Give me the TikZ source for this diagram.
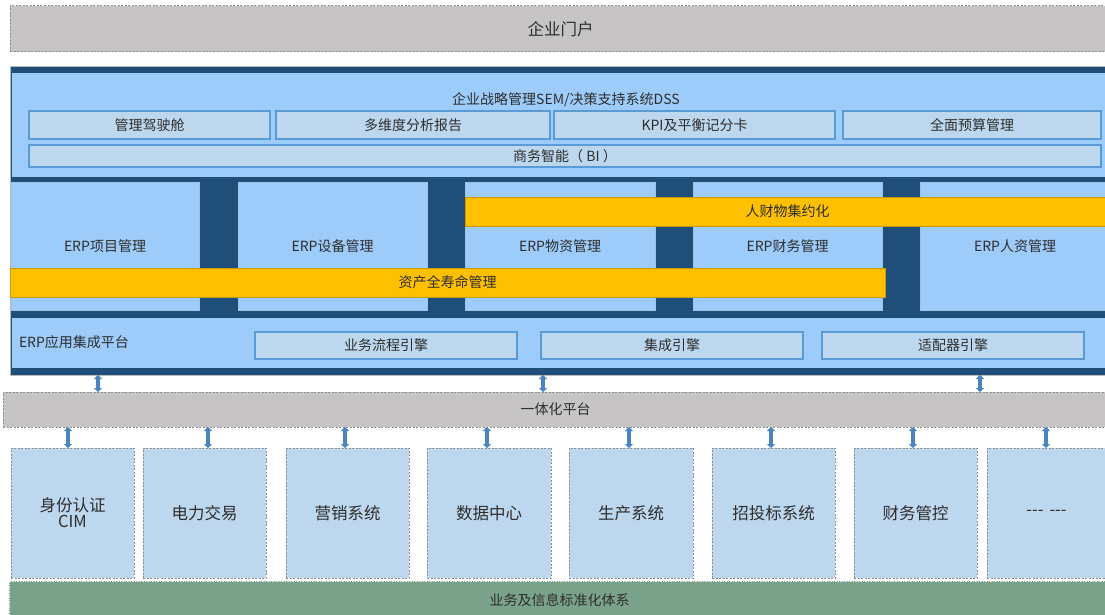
\documentclass[tikz,border=0pt]{standalone}
\usepackage{fontspec}
\setmainfont{Noto Sans CJK SC}
\usetikzlibrary{arrows.meta}
\definecolor{navy}{HTML}{1F4E79}
\definecolor{lblue}{HTML}{9DCCFA}
\definecolor{pblue}{HTML}{BDD7EE}
\definecolor{bblue}{HTML}{5B9BD5}
\definecolor{gbox}{HTML}{C6C4C5}
\definecolor{gedge}{HTML}{8E8E8E}
\definecolor{ylw}{HTML}{FFC000}
\definecolor{grn}{HTML}{7AA28B}
\definecolor{arrc}{HTML}{4A84C0}
\definecolor{txt}{HTML}{2E2E2E}
\tikzset{
  box/.style={rectangle, inner sep=0pt, outer sep=0pt, text=txt, font=\fontsize{14}{16}\selectfont},
  graybox/.style={box, fill=gbox, draw=gedge, line width=1pt, dash pattern=on 2pt off 1.5pt},
  navyblock/.style={box, fill=navy, draw=gedge!60, line width=0.6pt},
  lregion/.style={box, fill=lblue},
  semcell/.style={box, fill=pblue, draw=bblue, line width=1.2pt},
  module/.style={box, fill=lblue, draw=bblue!60, line width=0.6pt},
  ybar/.style={box, fill=ylw, draw=ylw!80!black, line width=0.5pt},
  sysbox/.style={box, fill=pblue, draw=gedge, line width=1pt, dash pattern=on 2pt off 1.5pt, font=\fontsize{16.5}{19}\selectfont, align=center},
  greenbar/.style={box, fill=grn, draw=white!85!gray, line width=1pt, dash pattern=on 1.5pt off 1pt},
  arr/.style={draw=arrc, line width=3.4pt, {Triangle[width=8pt,length=4pt]}-{Triangle[width=8pt,length=4pt]}}
}
\begin{document}
\begin{tikzpicture}[x=1pt,y=-1pt]
\useasboundingbox (0,0) rectangle (1105,615);
% portal
\node[graybox, minimum width=1101pt, minimum height=46pt, font=\fontsize{16.5}{19}\selectfont] (portal) at (560.5,29) {企业门户};
% ERP block
\node[navyblock, minimum width=1100pt, minimum height=309pt] (erp) at (560,220.5) {};
\node[lregion, minimum width=1096pt, minimum height=104pt] (sem) at (560,125) {};
\node[box] (semtitle) at (566,100) {企业战略管理SEM/决策支持系统DSS};
\node[semcell, minimum width=241pt, minimum height=28pt] (s1) at (149.5,125) {管理驾驶舱};
\node[semcell, minimum width=274pt, minimum height=28pt] (s2) at (413,125) {多维度分析报告};
\node[semcell, minimum width=281pt, minimum height=28pt] (s3) at (694.5,125) {KPI及平衡记分卡};
\node[semcell, minimum width=258pt, minimum height=28pt] (s4) at (972,125) {全面预算管理};
\node[semcell, minimum width=1072pt, minimum height=22pt] (bi) at (565,156) {商务智能（ BI ）};
% modules
\node[module, minimum width=188pt, minimum height=128pt] (m1) at (105,246) {ERP项目管理};
\node[module, minimum width=189pt, minimum height=128pt] (m2) at (332.5,246) {ERP设备管理};
\node[module, minimum width=190pt, minimum height=128pt] (m3) at (560,246) {ERP物资管理};
\node[module, minimum width=189pt, minimum height=128pt] (m4) at (787.5,246) {ERP财务管理};
\node[module, minimum width=190pt, minimum height=128pt] (m5) at (1015,246) {ERP人资管理};
\node[ybar, minimum width=645pt, minimum height=29pt] (y1) at (787.5,211.5) {人财物集约化};
\node[ybar, minimum width=875pt, minimum height=29pt] (y2) at (447.5,282.5) {资产全寿命管理};
% integration platform
\node[lregion, minimum width=1096pt, minimum height=50pt] (integ) at (560,343) {};
\node[box, anchor=west] (integlabel) at (19,342) {ERP应用集成平台};
\node[semcell, minimum width=262pt, minimum height=27pt] (e1) at (386,345.5) {业务流程引擎};
\node[semcell, minimum width=262pt, minimum height=27pt] (e2) at (672,345.5) {集成引擎};
\node[semcell, minimum width=262pt, minimum height=27pt] (e3) at (953,345.5) {适配器引擎};
% unified platform
\node[graybox, minimum width=1105pt, minimum height=35pt] (plat) at (555.5,409.5) {一体化平台};
% systems
\node[sysbox, minimum width=123pt, minimum height=130pt] (b1) at (72.5,513) {身份认证\\[-3pt]CIM};
\node[sysbox, minimum width=123pt, minimum height=130pt] (b2) at (204.5,513) {电力交易};
\node[sysbox, minimum width=123pt, minimum height=130pt] (b3) at (347.5,513) {营销系统};
\node[sysbox, minimum width=124pt, minimum height=130pt] (b4) at (489,513) {数据中心};
\node[sysbox, minimum width=124pt, minimum height=130pt] (b5) at (631,513) {生产系统};
\node[sysbox, minimum width=123pt, minimum height=130pt] (b6) at (773.5,513) {招投标系统};
\node[sysbox, minimum width=123pt, minimum height=130pt] (b7) at (915.5,513) {财务管控};
\node[sysbox, minimum width=119pt, minimum height=130pt] (b8) at (1046.5,513) {-{}-{}-\hspace{6pt}-{}-{}-};
% green standard bar
\node[greenbar, minimum width=1101pt, minimum height=38pt] (std) at (559.5,600) {业务及信息标准化体系};
% arrows ERP <-> platform
\draw[arr] ([xshift=-462pt]erp.south) -- ([xshift=-462pt]erp.south |- plat.north);
\draw[arr] ([xshift=-17pt]erp.south) -- ([xshift=-17pt]erp.south |- plat.north);
\draw[arr] ([xshift=420pt]erp.south) -- ([xshift=420pt]erp.south |- plat.north);
% arrows platform <-> systems
\draw[arr] ([xshift=-4.5pt]b1.north |- plat.south) -- ([xshift=-4.5pt]b1.north);
\draw[arr] ([xshift=3.5pt]b2.north |- plat.south) -- ([xshift=3.5pt]b2.north);
\draw[arr] ([xshift=-2.5pt]b3.north |- plat.south) -- ([xshift=-2.5pt]b3.north);
\draw[arr] ([xshift=-2pt]b4.north |- plat.south) -- ([xshift=-2pt]b4.north);
\draw[arr] ([xshift=-2pt]b5.north |- plat.south) -- ([xshift=-2pt]b5.north);
\draw[arr] ([xshift=-2.5pt]b6.north |- plat.south) -- ([xshift=-2.5pt]b6.north);
\draw[arr] ([xshift=-2.5pt]b7.north |- plat.south) -- ([xshift=-2.5pt]b7.north);
\draw[arr] ([xshift=-0.5pt]b8.north |- plat.south) -- ([xshift=-0.5pt]b8.north);
\end{tikzpicture}
\end{document}
